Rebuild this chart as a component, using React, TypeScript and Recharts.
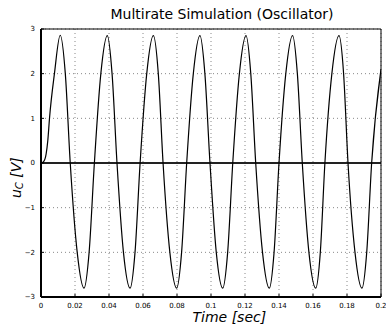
import React from 'react';
import { LineChart, Line, XAxis, YAxis, CartesianGrid, ReferenceLine } from 'recharts';

// time samples [sec] and capacitor voltage u_C [V]
const timeSec = [
  0, 0.0015, 0.003, 0.004, 0.005, 0.0079, 0.0113, 0.0143, 0.0172, 0.0213, 0.0253, 0.0283,
  0.0314, 0.0352, 0.039, 0.0418, 0.0447, 0.0485, 0.0524, 0.0553, 0.0583, 0.0622, 0.0661, 0.069,
  0.0718, 0.0758, 0.0798, 0.0827, 0.0857, 0.0896, 0.0935, 0.0964, 0.0994, 0.1031, 0.1069, 0.1098,
  0.1128, 0.1167, 0.1206, 0.1234, 0.1263, 0.1303, 0.1343, 0.1371, 0.14, 0.144, 0.148, 0.1508,
  0.1537, 0.1576, 0.1616, 0.1643, 0.167, 0.1711, 0.1753, 0.178, 0.1806, 0.1847, 0.1888, 0.1916,
  0.1945, 0.2,
];
const uC = [
  0, 0.03, 0.2, 0.5, 1.0, 2.0, 2.86, 2.0, 0, -2.0, -2.8, -2.0,
  0, 2.0, 2.85, 2.0, 0, -2.0, -2.8, -2.0, 0, 2.0, 2.85, 2.0,
  0, -2.0, -2.8, -2.0, 0, 2.0, 2.85, 2.0, 0, -2.0, -2.8, -2.0,
  0, 2.0, 2.85, 2.0, 0, -2.0, -2.8, -2.0, 0, 2.0, 2.85, 2.0,
  0, -2.0, -2.8, -2.0, 0, 2.0, 2.85, 2.0, 0, -2.0, -2.8, -2.0,
  0, 2.1,
];
const baseline = 0;

const xTicks = [0, 0.02, 0.04, 0.06, 0.08, 0.1, 0.12, 0.14, 0.16, 0.18, 0.2];
const xTickLabels = ['0', '0.02', '0.04', '0.06', '0.08', '0.1', '0.12', '0.14', '0.16', '0.18', '0.2'];
const yTicks = [-3, -2, -1, 0, 1, 2, 3];
const yTickLabels = ['\u22123', '\u22122', '\u22121', '0', '1', '2', '3'];

const data = timeSec.map((t, i) => ({ t, uC: uC[i] }));

const tickFont = { fontSize: 7, fill: '#000', fontFamily: 'DejaVu Sans' };
const labelFont = 'DejaVu Sans';

export default function App() {
  return (
    <div style={{ position: 'absolute', left: 0, top: 0, width: 386, height: 326, background: '#fff' }}>
      <LineChart width={386} height={326} data={data} margin={{ top: 28, right: 4, bottom: 0, left: 0 }}>
        <CartesianGrid
          xAxisId="b"
          yAxisId="l"
          stroke="#888"
          strokeDasharray="1 3"
          verticalValues={xTicks}
          horizontalValues={yTicks}
        />
        <XAxis
          xAxisId="b"
          type="number"
          dataKey="t"
          domain={[0, 0.2]}
          ticks={xTicks}
          height={29}
          tickSize={-3}
          tickMargin={9}
          tick={tickFont}
          tickFormatter={(v, i) => xTickLabels[i]}
          axisLine={{ stroke: '#000', strokeWidth: 2 }}
          tickLine={{ stroke: '#000' }}
          allowDataOverflow
        />
        <XAxis
          xAxisId="top"
          orientation="top"
          type="number"
          dataKey="t"
          domain={[0, 0.2]}
          ticks={xTicks}
          height={1}
          tickSize={-3}
          tick={false}
          axisLine={{ stroke: '#000', strokeWidth: 1 }}
          tickLine={{ stroke: '#000' }}
          allowDataOverflow
        />
        <YAxis
          yAxisId="l"
          type="number"
          domain={[-3, 3]}
          ticks={yTicks}
          width={41}
          tickSize={-3}
          tickMargin={9}
          tick={tickFont}
          tickFormatter={(v, i) => yTickLabels[i]}
          axisLine={{ stroke: '#000', strokeWidth: 2 }}
          tickLine={{ stroke: '#000' }}
          allowDataOverflow
        />
        <YAxis
          yAxisId="r"
          orientation="right"
          type="number"
          domain={[-3, 3]}
          ticks={yTicks}
          width={1}
          tickSize={-3}
          tick={false}
          axisLine={{ stroke: '#000', strokeWidth: 1 }}
          tickLine={{ stroke: '#000' }}
          allowDataOverflow
        />
        <ReferenceLine xAxisId="b" yAxisId="l" y={baseline} stroke="#222" strokeWidth={2} />
        <Line
          xAxisId="b"
          yAxisId="l"
          type="monotone"
          dataKey="uC"
          stroke="#000"
          strokeWidth={1.2}
          dot={false}
          isAnimationActive={false}
        />
      </LineChart>
      <svg width={386} height={326} style={{ position: 'absolute', left: 0, top: 0, pointerEvents: 'none' }}>
        <text x={222} y={18.5} textAnchor="middle" fontSize={14} fontFamily={labelFont} fill="#000">
          Multirate Simulation (Oscillator)
        </text>
        <text x={192.5} y={322} fontSize={14} fontFamily={labelFont} fontStyle="italic" fill="#000">
          Time [sec]
        </text>
        <text
          x={21}
          y={198}
          transform="rotate(-90 21 198)"
          fontSize={14}
          fontFamily={labelFont}
          fontStyle="italic"
          fill="#000"
        >
          u
          <tspan fontSize={10} dy={2}>C</tspan>
          <tspan dy={-2}> [V]</tspan>
        </text>
      </svg>
    </div>
  );
}
